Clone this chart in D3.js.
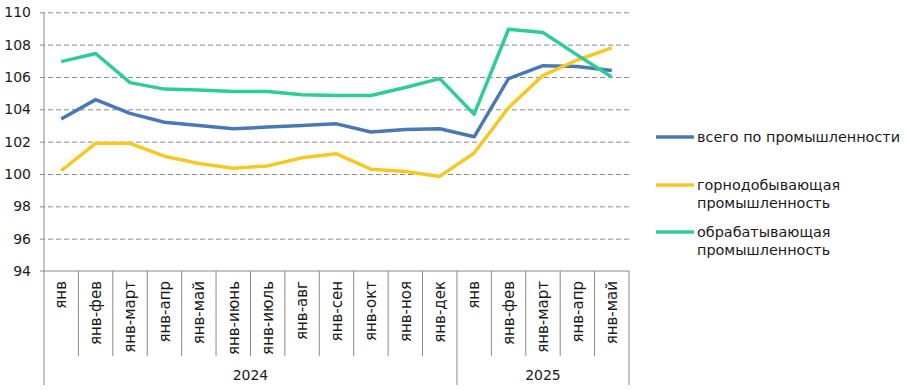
<!DOCTYPE html>
<html><head><meta charset="utf-8">
<script src="https://cdn.jsdelivr.net/npm/d3@7"></script>
<style>
body{margin:0;background:#fff;}
text{font-family:"DejaVu Sans",Verdana,sans-serif;fill:#1a1a1a;}
</style></head>
<body><svg id="c" width="909" height="390"></svg>
<script>
const categories = ["янв","янв-фев","янв-март","янв-апр","янв-май","янв-июнь","янв-июль","янв-авг","янв-сен","янв-окт","янв-ноя","янв-дек","янв","янв-фев","янв-март","янв-апр","янв-май"];
const years = [{label:"2024", from:0, to:11},{label:"2025", from:12, to:16}];
const totalInd = [103.4,104.6,103.75,103.2,103.0,102.8,102.9,103.0,103.1,102.6,102.75,102.8,102.3,105.9,106.7,106.65,106.4];
const mining   = [100.2,101.9,101.9,101.1,100.65,100.35,100.5,101.0,101.25,100.3,100.15,99.85,101.3,104.1,106.1,107.05,107.8];
const manuf    = [106.95,107.45,105.65,105.25,105.2,105.1,105.1,104.9,104.85,104.85,105.35,105.9,103.7,108.95,108.75,107.35,106.0];
const yTicks = [94,96,98,100,102,104,106,108,110];
const seriesNames = ["всего по промышленности",["горнодобывающая","промышленность"],["обрабатывающая","промышленность"]];
const colors = ["#4a78b4","#f5c824","#2fcc99"];

(function(){
const svg = d3.select("#c");
const mL = 44, mR = 629, mT = 12.3, mB = 271;
const x = d3.scaleBand().domain(d3.range(categories.length)).range([mL, mR]);
const y = d3.scaleLinear().domain([94,110]).range([mB, mT]);

// grid
const grid = svg.append("g").attr("transform",`translate(${mL},0)`)
  .call(d3.axisLeft(y).tickValues(yTicks.filter(v=>v!==94)).tickSize(-(mR-mL)).tickFormat(""));
grid.select(".domain").remove();
grid.selectAll("line").attr("stroke","#8a8a8a").attr("stroke-dasharray","5,3").attr("x1",-4);

// y axis
const ya = svg.append("g").attr("transform",`translate(${mL},0)`)
  .call(d3.axisLeft(y).tickValues(yTicks).tickSize(0).tickPadding(13));
ya.select(".domain").remove();
ya.selectAll("text").attr("font-size","14px").attr("fill","#1a1a1a").style("font-family","DejaVu Sans, Verdana, sans-serif");
svg.append("line").attr("x1",mL).attr("x2",mL).attr("y1",mT).attr("y2",385).attr("stroke","#8a8a8a");
svg.append("line").attr("x1",mL-4).attr("x2",mR).attr("y1",mB).attr("y2",mB).attr("stroke","#8a8a8a");

// category dividers
const bw = x.bandwidth();
const divs = d3.range(1, categories.length+1);
svg.append("g").selectAll("line").data(divs).join("line")
  .attr("x1",i=>mL+i*bw).attr("x2",i=>mL+i*bw)
  .attr("y1",mB).attr("y2",i=>(i===12||i===categories.length)?385:356)
  .attr("stroke","#8a8a8a");

// category labels
svg.append("g").selectAll("text").data(categories).join("text")
  .attr("transform",(d,i)=>`translate(${x(i)+bw/2},281) rotate(-90)`)
  .attr("text-anchor","end").attr("dy","0.35em").attr("font-size","15px").text(d=>d);

// year labels
svg.append("g").selectAll("text").data(years).join("text")
  .attr("x",d=>(x(d.from)+x(d.to)+bw)/2).attr("y",375).attr("dy","0.35em")
  .attr("text-anchor","middle").attr("font-size","14px").text(d=>d.label);

// lines
const line = d3.line().x((d,i)=>x(i)+bw/2).y(d=>y(d));
[totalInd, mining, manuf].forEach((s,k)=>{
  svg.append("path").datum(s).attr("d",line).attr("fill","none")
    .attr("stroke",colors[k]).attr("stroke-width",3.5).attr("stroke-linejoin","round");
});

// legend
const lg = [{y:137},{y:185},{y:232}];
lg.forEach((L,k)=>{
  svg.append("line").attr("x1",656).attr("x2",694).attr("y1",L.y).attr("y2",L.y)
    .attr("stroke",colors[k]).attr("stroke-width",3.5);
  const names = Array.isArray(seriesNames[k])?seriesNames[k]:[seriesNames[k]];
  names.forEach((n,j)=>{
    svg.append("text").attr("x",697).attr("y",L.y+j*18).attr("dy","0.35em")
      .attr("font-size","14.4px").text(n);
  });
});
})();
</script></body></html>
